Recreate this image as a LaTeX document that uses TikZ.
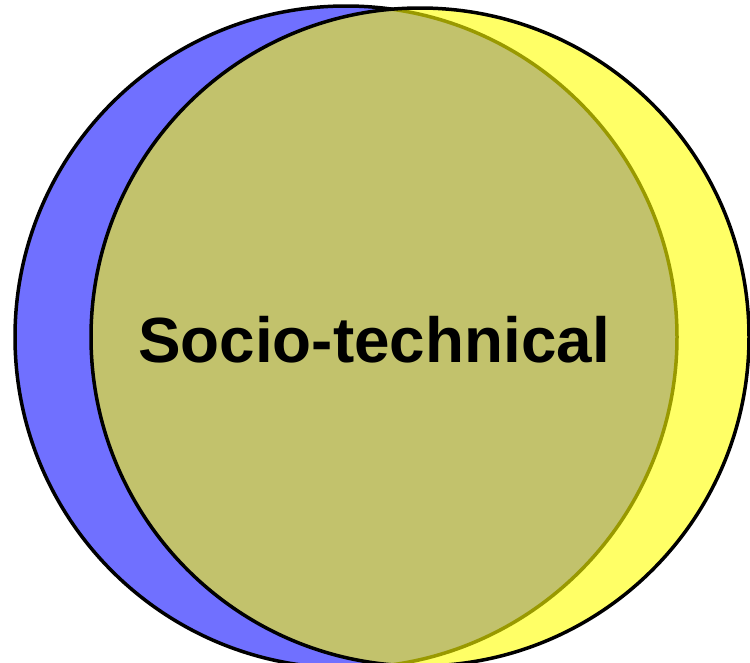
\documentclass[tikz,border=0pt]{standalone}
\usepackage{fontspec}
\setmainfont{Liberation Sans}
\definecolor{setblue}{RGB}{112,112,255}
\definecolor{setyellow}{RGB}{255,255,102}
\definecolor{setolive}{RGB}{194,194,108}
\definecolor{oliveedge}{RGB}{153,153,0}
\begin{document}
\begin{tikzpicture}[x=1pt,y=-1pt,
  rim/.style={line width=3.5pt},
  label/.style={font=\fontsize{63.8}{70}\selectfont\bfseries, inner sep=0pt}]
\useasboundingbox (0,0) rectangle (750,662);
\clip (0,0) rectangle (750,662);
\coordinate (cb) at (346,337);
\coordinate (cy) at (420,337);
% blue set
\fill[setblue] (cb) circle[radius=331];
\draw[rim,black] (cb) circle[radius=331];
% yellow set
\fill[setyellow] (cy) circle[radius=329];
% intersection
\begin{scope}
  \clip (cb) circle[radius=331];
  \fill[setolive] (cy) circle[radius=329];
\end{scope}
\begin{scope}
  \clip (cy) circle[radius=329];
  \draw[rim,oliveedge] (cb) circle[radius=331];
\end{scope}
\draw[rim,black] (cy) circle[radius=329];
\node[label, anchor=base] (st) at (374,362) {Socio-technical};
\end{tikzpicture}
\end{document}
